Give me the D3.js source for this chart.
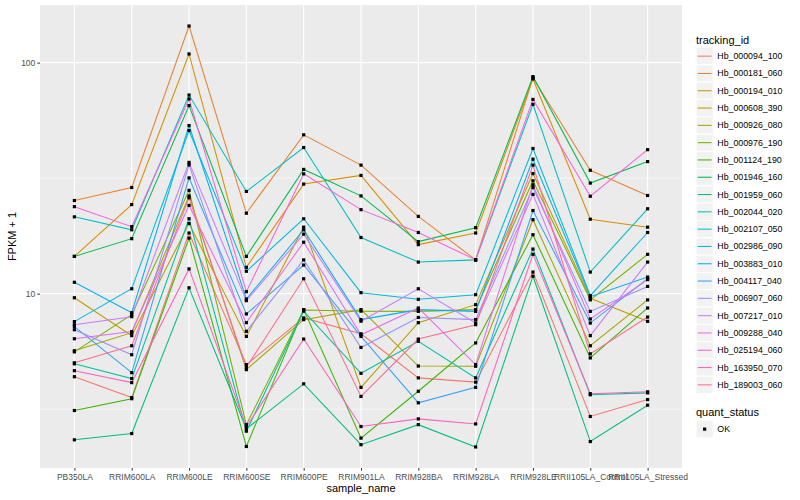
<!DOCTYPE html>
<html>
<head>
<meta charset="utf-8">
<script src="https://cdn.jsdelivr.net/npm/d3@7"></script>
<style>
body { margin: 0; background: white; }
text { font-family: "Liberation Sans", Arial, sans-serif; }
</style>
</head>
<body>
<div id="chart"></div>
<script>
var samples = ["PB350LA", "RRIM600LA", "RRIM600LE", "RRIM600SE", "RRIM600PE", "RRIM901LA",
  "RRIM928BA", "RRIM928LA", "RRIM928LE", "RRII105LA_Control", "RRII105LA_Stressed"];

var trackingIds = ["Hb_000094_100", "Hb_000181_060", "Hb_000194_010", "Hb_000608_390", "Hb_000926_080",
  "Hb_000976_190", "Hb_001124_190", "Hb_001946_160", "Hb_001959_060", "Hb_002044_020",
  "Hb_002107_050", "Hb_002986_090", "Hb_003883_010", "Hb_004117_040", "Hb_006907_060",
  "Hb_007217_010", "Hb_009288_040", "Hb_025194_060", "Hb_163950_070", "Hb_189003_060"];

// FPKM + 1, one row per tracking id, one value per sample
var fpkm = [
  [4.37, 3.55, 18.3, 4.93, 7.85, 6.7, 4.32, 4.14, 12.4, 2.94, 3.48],
  [25.3, 28.8, 144, 22.3, 48.7, 36, 21.6, 14.0, 86, 34.2, 26.6],
  [14.5, 24.3, 109, 13.0, 29.8, 32.5, 16.3, 18.3, 85, 21.0, 19.4],
  [9.6, 6.58, 20.1, 6.53, 19.4, 3.93, 7.49, 8.96, 33.1, 9.55, 7.59],
  [5.66, 6.78, 26.5, 4.69, 7.72, 8.53, 4.86, 4.85, 20.9, 5.95, 9.4],
  [5.6, 8.11, 28.0, 2.71, 8.5, 8.4, 8.38, 8.53, 30.8, 9.4, 14.8],
  [3.12, 3.51, 17.4, 2.18, 8.53, 2.37, 3.78, 6.12, 18.0, 5.27, 8.67],
  [14.5, 17.3, 65.2, 14.5, 34.5, 26.5, 16.8, 19.3, 87, 30.1, 37.3],
  [2.33, 2.48, 10.6, 2.6, 4.07, 2.22, 2.71, 2.17, 11.9, 2.29, 3.29],
  [4.97, 4.29, 21.1, 2.54, 8.4, 4.52, 6.22, 4.32, 15.6, 3.65, 3.72],
  [21.5, 18.9, 72.4, 27.7, 42.9, 17.5, 13.7, 14.0, 66, 12.4, 23.3],
  [7.57, 10.5, 50.8, 12.5, 21.1, 10.1, 9.45, 9.9, 42.5, 9.8, 18.4],
  [11.2, 8.27, 53.4, 9.48, 18.9, 7.72, 8.53, 8.38, 38.2, 9.7, 11.8],
  [7.2, 4.55, 31.7, 8.17, 13.3, 6.53, 3.37, 3.93, 22.9, 7.46, 11.6],
  [6.98, 5.44, 36.1, 6.87, 14.0, 5.85, 7.89, 7.72, 28.8, 8.38, 10.75],
  [7.34, 7.95, 37.0, 9.33, 18.1, 7.6, 10.5, 7.46, 26.9, 6.58, 13.7],
  [6.38, 6.85, 24.1, 7.49, 16.7, 6.64, 8.67, 4.93, 29.6, 7.77, 11.5],
  [23.8, 19.5, 69.6, 10.2, 33.0, 23.1, 18.4, 14.0, 69.3, 26.4, 42],
  [4.64, 4.12, 12.8, 2.65, 6.36, 2.66, 2.87, 2.73, 14.8, 3.69, 3.76],
  [5.02, 5.95, 26.0, 4.8, 11.6, 3.59, 6.36, 7.34, 36, 5.49, 7.92]
];

var yTicks = [10, 100];
var yMinor = [Math.sqrt(10), Math.sqrt(1000)];
var quantStatus = ["OK"];

var colors = ["#F8766D", "#EA8331", "#D89000", "#C09B00", "#A3A500", "#7CAE00", "#39B600", "#00BB4E",
  "#00BF7D", "#00C1A3", "#00BFC4", "#00BAE0", "#00B0F6", "#35A2FF", "#9590FF", "#C77CFF",
  "#E76BF3", "#FA62DB", "#FF62BC", "#FF6C91"];

var panelLeft = 40, panelRight = 682, panelTop = 5, panelBottom = 468;
var dot = 3.2;

var svg = d3.select("#chart")
    .append("svg")
    .attr("width", 800)
    .attr("height", 500);

svg.append("rect").attr("width", 800).attr("height", 500).style("fill", "white");

// log scale with ggplot-like 5% expansion in log space
var allVals = d3.merge(fpkm);
var lo = Math.log10(d3.min(allVals)), hi = Math.log10(d3.max(allVals));
var pad = (hi - lo) * 0.05;

var x = d3.scalePoint()
    .domain(samples)
    .range([panelLeft, panelRight])
    .padding(0.6);

var y = d3.scaleLog()
    .domain([Math.pow(10, lo - pad), Math.pow(10, hi + pad)])
    .range([panelBottom, panelTop]);

var color = d3.scaleOrdinal().domain(trackingIds).range(colors);

svg.append("rect")
    .attr("x", panelLeft)
    .attr("y", panelTop)
    .attr("width", panelRight - panelLeft)
    .attr("height", panelBottom - panelTop)
    .style("fill", "#EBEBEB");

var grid = svg.append("g");
grid.selectAll(".minor")
    .data(yMinor)
    .enter().append("line")
    .attr("x1", panelLeft).attr("x2", panelRight)
    .attr("y1", d => y(d)).attr("y2", d => y(d))
    .style("stroke", "white").style("stroke-width", 0.55);
grid.selectAll(".major")
    .data(yTicks)
    .enter().append("line")
    .attr("x1", panelLeft).attr("x2", panelRight)
    .attr("y1", d => y(d)).attr("y2", d => y(d))
    .style("stroke", "white").style("stroke-width", 1.1);
grid.selectAll(".vmajor")
    .data(samples)
    .enter().append("line")
    .attr("x1", d => x(d)).attr("x2", d => x(d))
    .attr("y1", panelTop).attr("y2", panelBottom)
    .style("stroke", "white").style("stroke-width", 1.1);

// axes
var xAxis = svg.append("g")
    .attr("transform", "translate(0," + panelBottom + ")")
    .call(d3.axisBottom(x).tickSize(2.7).tickPadding(3.5));
var yAxis = svg.append("g")
    .attr("transform", "translate(" + panelLeft + ",0)")
    .call(d3.axisLeft(y).tickValues(yTicks).tickFormat(d3.format("d")).tickSize(2.7).tickPadding(2));
[xAxis, yAxis].forEach(function(a) {
    a.select(".domain").remove();
    a.selectAll(".tick line").style("stroke", "#333333");
    a.selectAll(".tick text").style("fill", "#4D4D4D").style("font-size", "8.5px")
        .style("font-family", "'Liberation Sans', Arial, sans-serif");
});

// lines
var line = d3.line()
    .x((d, i) => x(samples[i]))
    .y(d => y(d));

svg.append("g")
    .selectAll("path")
    .data(fpkm)
    .enter().append("path")
    .attr("d", d => line(d))
    .style("fill", "none")
    .style("stroke", (d, i) => color(trackingIds[i]))
    .style("stroke-width", 1.05);

// points
var pts = [];
fpkm.forEach(function(row, r) {
    row.forEach(function(v, c) { pts.push({ s: samples[c], v: v }); });
});
svg.append("g")
    .selectAll("rect")
    .data(pts)
    .enter().append("rect")
    .attr("x", d => x(d.s) - dot / 2)
    .attr("y", d => y(d.v) - dot / 2)
    .attr("width", dot)
    .attr("height", dot)
    .style("fill", "black");

// axis titles
svg.append("text")
    .attr("x", (panelLeft + panelRight) / 2)
    .attr("y", 492)
    .attr("text-anchor", "middle")
    .style("font-size", "11px")
    .text("sample_name");
svg.append("text")
    .attr("transform", "translate(16," + ((panelTop + panelBottom) / 2) + ") rotate(-90)")
    .attr("text-anchor", "middle")
    .style("font-size", "11px")
    .text("FPKM + 1");

// legend: tracking_id
var legX = 696, keySize = 17.3, legTop = 47.5;
var legend = svg.append("g");
legend.append("text")
    .attr("x", legX)
    .attr("y", 44)
    .style("font-size", "11px")
    .text("tracking_id");
var items = legend.selectAll(".item")
    .data(trackingIds)
    .enter().append("g")
    .attr("transform", (d, i) => "translate(" + legX + "," + (legTop + i * keySize) + ")");
items.append("rect")
    .attr("width", keySize).attr("height", keySize)
    .style("fill", "#F2F2F2").style("stroke", "white").style("stroke-width", 1);
items.append("line")
    .attr("x1", 1.7).attr("x2", keySize - 1.7)
    .attr("y1", keySize / 2).attr("y2", keySize / 2)
    .style("stroke", d => color(d)).style("stroke-width", 1.05);
items.append("text")
    .attr("x", keySize + 4)
    .attr("y", keySize / 2 + 3)
    .style("font-size", "8.8px")
    .text(d => d);

// legend: quant_status
var q = svg.append("g");
q.append("text")
    .attr("x", legX)
    .attr("y", 416)
    .style("font-size", "11px")
    .text("quant_status");
var qItems = q.selectAll(".qitem")
    .data(quantStatus)
    .enter().append("g")
    .attr("transform", (d, i) => "translate(" + legX + "," + (420.5 + i * keySize) + ")");
qItems.append("rect")
    .attr("width", keySize).attr("height", keySize)
    .style("fill", "#F2F2F2").style("stroke", "white").style("stroke-width", 1);
qItems.append("rect")
    .attr("x", keySize / 2 - dot / 2).attr("y", keySize / 2 - dot / 2)
    .attr("width", dot).attr("height", dot)
    .style("fill", "black");
qItems.append("text")
    .attr("x", keySize + 4)
    .attr("y", keySize / 2 + 3)
    .style("font-size", "8.8px")
    .text(d => d);
</script>
</body>
</html>
